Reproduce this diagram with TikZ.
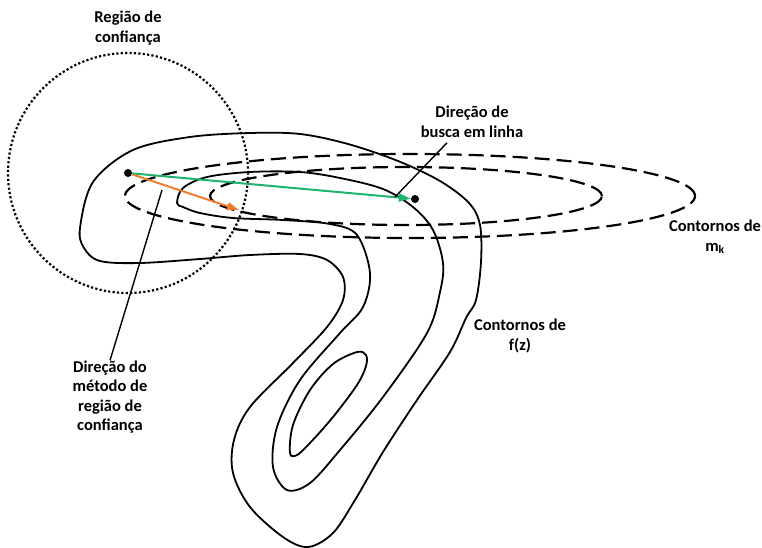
\documentclass[tikz,border=0pt]{standalone}
\usepackage{fontspec}
\setmainfont{Carlito}
\usetikzlibrary{arrows.meta,positioning}
\definecolor{verde}{RGB}{30,180,110}
\definecolor{laranja}{RGB}{237,125,49}
\begin{document}
\begin{tikzpicture}[x=1pt,y=-1pt,
 t/.style={font=\bfseries\fontsize{16.5}{19.5}\selectfont,align=center,inner sep=0pt},
 c/.style={line width=1.8pt,smooth cycle,tension=0.55},
 m/.style={line width=2.2pt,dash pattern=on 15pt off 7pt},
 p/.style={circle,fill,inner sep=0pt,minimum size=8pt},
 s/.style={line width=2pt,-{Triangle[length=12pt,width=8pt]}},
 l/.style={line width=1.4pt}]
\useasboundingbox (0,0) rectangle (762,548);
\draw[c] plot coordinates {(80,228) (93,182) (133,150) (190,137) (250,133) (300,134) (348,144) (398,161) (440,181) (469,203) (480,225) (481,262) (476,300) (466,318) (450,352) (417,400) (383,452) (355,500) (333,533) (308,547) (283,537) (250,507) (233,473) (234,440) (250,407) (293,363) (327,327) (343,300) (343,277) (327,260) (300,254) (250,255) (200,259) (140,263) (100,261) (84,248)};
\draw[c] plot coordinates {(177,203) (183,188) (207,177) (250,172) (300,172) (340,178) (383,189) (413,207) (433,230) (443,263) (440,292) (427,333) (383,397) (340,450) (310,483) (287,490) (273,467) (277,427) (300,380) (340,333) (363,307) (370,273) (357,235) (330,224) (283,220) (233,218) (200,213) (183,207)};
\draw[c] plot coordinates {(290,453) (293,425) (310,390) (333,364) (357,352) (366,355) (366,366) (357,385) (333,417) (310,443) (297,455)};
\draw[m] (410,196) ellipse [x radius=285pt,y radius=42pt];
\draw[m] (406,196) ellipse [x radius=196pt,y radius=29pt];
\node[p] (x0) at (128,173) {};
\node[p] (x1) at (415,199) {};
\draw[line width=2.2pt,dash pattern=on 2.2pt off 2.2pt] (x0.center) circle [radius=120pt];
\coordinate (o) at (239,210);
\draw[s,verde] (x0) -- (x1);
\draw[s,laranja] (x0) -- (o);
\node[t] (rc) at (128,28) {Região de\\confiança};
\node[t] (bl) at (472,122) {Direção de\\busca em linha};
\node[t,anchor=base] (cm) at (715,251) {Contornos de\\m\textsubscript{k}};
\node[t] (cf) at (520,336) {Contornos de\\f(z)};
\node[t] (mr) at (110,397) {Direção do\\método de\\região de\\confiança};
\coordinate (a1) at (162,190);
\coordinate (a2) at (395,197);
\draw[l] (a1) -- (mr.north);
\draw[l] ([shift={(-25,5)}]bl.south) -- (a2);
\end{tikzpicture}
\end{document}
